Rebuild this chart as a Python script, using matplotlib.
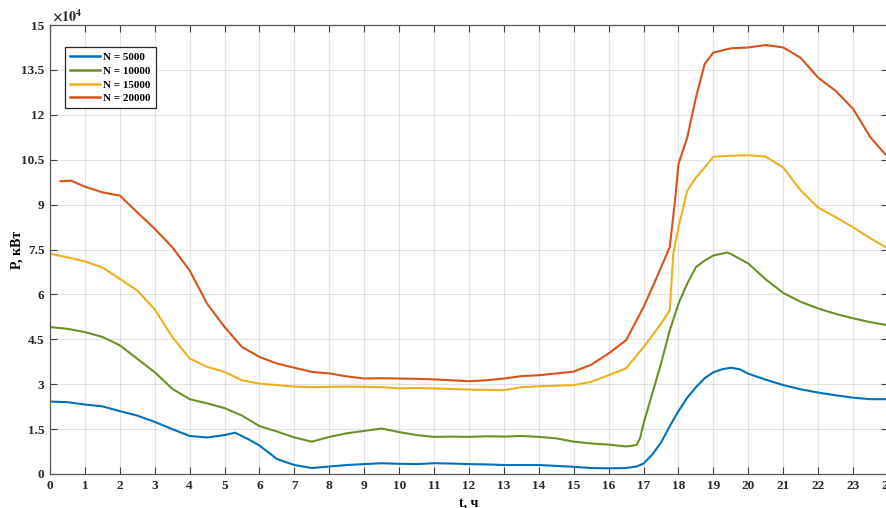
import matplotlib
matplotlib.use("Agg")
import matplotlib.pyplot as plt

plt.rcParams['font.family'] = ['Liberation Serif', 'DejaVu Serif']
plt.rcParams['font.weight'] = 'bold'
plt.rcParams['mathtext.fontset'] = 'stix'

# ---- data (P in units of 1e4 kW, t in hours) ----
t_5000 = [0, 0.5, 1, 1.5, 2, 2.5, 3, 3.5, 4, 4.5, 5, 5.3, 5.7, 6, 6.5, 7, 7.5, 8, 8.5, 9, 9.5,
          10, 10.5, 11, 11.5, 12, 12.5, 13, 13.5, 14, 14.5, 15, 15.5, 16, 16.5, 16.8, 17,
          17.25, 17.5, 17.75, 18, 18.25, 18.5, 18.75, 19, 19.25, 19.5, 19.75, 20, 20.5, 21,
          21.5, 22, 22.5, 23, 23.5, 24]
p_5000 = [2.42, 2.40, 2.32, 2.26, 2.10, 1.95, 1.74, 1.50, 1.27, 1.22, 1.30, 1.38, 1.15, 0.95,
          0.50, 0.30, 0.20, 0.25, 0.30, 0.33, 0.36, 0.34, 0.33, 0.36, 0.35, 0.33, 0.32, 0.30,
          0.30, 0.30, 0.27, 0.24, 0.20, 0.19, 0.20, 0.25, 0.35, 0.65, 1.05, 1.60, 2.10, 2.55,
          2.90, 3.20, 3.40, 3.50, 3.55, 3.50, 3.35, 3.15, 2.97, 2.83, 2.72, 2.63, 2.55, 2.50,
          2.50]

t_10000 = [0, 0.5, 1, 1.5, 2, 2.5, 3, 3.5, 4, 4.5, 5, 5.5, 6, 6.5, 7, 7.5, 8, 8.5, 9, 9.5, 10,
           10.5, 11, 11.5, 12, 12.5, 13, 13.5, 14, 14.5, 15, 15.5, 16, 16.5, 16.8, 16.9, 17,
           17.25, 17.5, 17.75, 18, 18.25, 18.5, 18.75, 19, 19.4, 19.5, 20, 20.5, 21, 21.5, 22,
           22.5, 23, 23.5, 24]
p_10000 = [4.91, 4.85, 4.74, 4.58, 4.30, 3.85, 3.40, 2.85, 2.50, 2.36, 2.20, 1.95, 1.60, 1.42,
           1.22, 1.08, 1.24, 1.36, 1.44, 1.52, 1.40, 1.30, 1.24, 1.25, 1.24, 1.26, 1.25, 1.27,
           1.24, 1.19, 1.08, 1.02, 0.98, 0.92, 0.97, 1.20, 1.69, 2.69, 3.69, 4.80, 5.69, 6.36,
           6.91, 7.13, 7.30, 7.40, 7.35, 7.03, 6.50, 6.05, 5.75, 5.53, 5.35, 5.20, 5.07, 4.97]

t_15000 = [0, 0.5, 1, 1.5, 2, 2.5, 3, 3.5, 4, 4.5, 5, 5.5, 6, 6.5, 7, 7.5, 8, 8.5, 9, 9.5, 10,
           10.5, 11, 11.5, 12, 12.5, 13, 13.5, 14, 14.5, 15, 15.5, 16, 16.5, 17, 17.5, 17.75,
           17.85, 18, 18.25, 18.5, 18.75, 19, 19.5, 20, 20.5, 21, 21.5, 22, 22.5, 23, 23.5, 24]
p_15000 = [7.36, 7.24, 7.10, 6.90, 6.52, 6.13, 5.50, 4.58, 3.86, 3.58, 3.41, 3.13, 3.02, 2.97,
           2.92, 2.90, 2.91, 2.92, 2.91, 2.90, 2.86, 2.87, 2.86, 2.84, 2.82, 2.81, 2.80, 2.90,
           2.93, 2.95, 2.97, 3.08, 3.30, 3.53, 4.24, 5.02, 5.47, 7.35, 8.24, 9.47, 9.90, 10.24,
           10.60, 10.63, 10.65, 10.60, 10.24, 9.47, 8.90, 8.58, 8.24, 7.87, 7.53]

t_20000 = [0.3, 0.6, 1, 1.5, 2, 2.5, 3, 3.5, 4, 4.5, 5, 5.5, 6, 6.5, 7, 7.5, 8, 8.5, 9, 9.5, 10,
           10.5, 11, 11.5, 12, 12.5, 13, 13.5, 14, 14.5, 15, 15.5, 16, 16.5, 17, 17.3, 17.5,
           17.75, 17.9, 18, 18.25, 18.5, 18.75, 19, 19.5, 20, 20.5, 21, 21.5, 22, 22.5, 23,
           23.5, 24]
p_20000 = [9.78, 9.80, 9.60, 9.41, 9.30, 8.74, 8.19, 7.58, 6.80, 5.69, 4.91, 4.24, 3.91, 3.69,
           3.55, 3.41, 3.36, 3.26, 3.19, 3.20, 3.19, 3.18, 3.16, 3.13, 3.10, 3.13, 3.19, 3.27,
           3.30, 3.36, 3.42, 3.65, 4.03, 4.47, 5.58, 6.36, 6.90, 7.58, 9.13, 10.36, 11.24, 12.58,
           13.70, 14.08, 14.22, 14.25, 14.33, 14.25, 13.90, 13.24, 12.80, 12.20, 11.24, 10.58]

labels = ['N = 5000', 'N = 10000', 'N = 15000', 'N = 20000']
colors = ['#0072BD', '#6B9225', '#EDB120', '#D95319']
x_ticks = list(range(0, 25))
y_ticks = [0, 1.5, 3, 4.5, 6, 7.5, 9, 10.5, 12, 13.5, 15]
y_tick_labels = ['0', '1.5', '3', '4.5', '6', '7.5', '9', '10.5', '12', '13.5', '15']

fig = plt.figure(figsize=(8.87, 5.08), dpi=100)
ax = fig.add_axes([50/887, 34/508, 838/887, 449/508])

series = [(t_5000, p_5000), (t_10000, p_10000), (t_15000, p_15000), (t_20000, p_20000)]
for (t, p), lab, c in zip(series, labels, colors):
    ax.plot(t, p, color=c, lw=1.5, label=lab)

ax.set_xlim(0, 24)
ax.set_ylim(0, 15)
ax.set_xticks(x_ticks)
ax.set_xticklabels([str(v) for v in x_ticks])
ax.set_yticks(y_ticks)
ax.set_yticklabels(y_tick_labels)
ax.grid(True, color='#262626', alpha=0.12, lw=0.8)
ax.set_axisbelow(True)
ax.tick_params(direction='in', top=True, right=True, length=5, width=0.8,
               color='#404040', labelsize=9.5, labelcolor='#262626', pad=4)
for lbl in ax.get_xticklabels() + ax.get_yticklabels():
    lbl.set_fontweight('bold')
for s in ax.spines.values():
    s.set_color('#5a5a5a')
    s.set_linewidth(0.9)

ax.set_xlabel('t, ч', fontsize=10, fontweight='bold')
ax.xaxis.set_label_coords(0.5, -0.05)
ax.set_ylabel('P, кВт', fontsize=10, fontweight='bold')
ax.yaxis.set_label_coords((24 - 50) / 838, 0.5)

fig.text(52/887, 1 - 16/508, r'$\mathbf{\times 10^{4}}$', fontsize=10, ha='left', va='center',
         color='#262626')

leg = ax.legend(loc='upper left', bbox_to_anchor=(0.018, 0.95), borderaxespad=0,
                fancybox=False, edgecolor='#262626', fontsize=8, handlelength=2.7,
                labelspacing=0.35, borderpad=0.45, handletextpad=0.3, framealpha=1)
leg.get_frame().set_linewidth(0.9)
for txt in leg.get_texts():
    txt.set_fontweight('bold')
for line in leg.get_lines():
    line.set_linewidth(1.8)

fig.savefig('out.png', dpi=100)
